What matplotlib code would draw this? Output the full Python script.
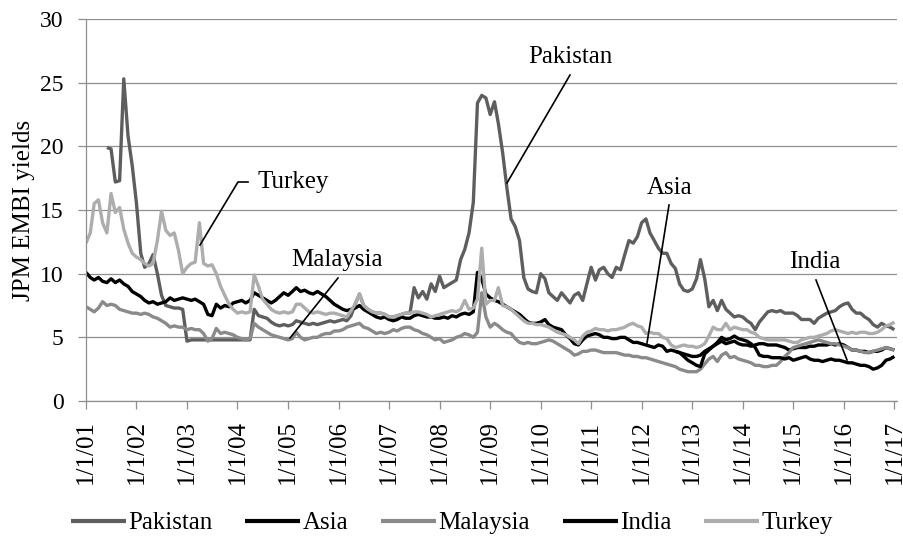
import numpy as np
import pandas as pd
import matplotlib
matplotlib.use("Agg")
import matplotlib.pyplot as plt
import matplotlib.dates as mdates
from matplotlib.ticker import FuncFormatter, MultipleLocator

nan = np.nan

# Monthly readings, Jan 2001 .. Jan 2017 (one row per year)
pakistan = [
    nan, nan, nan, nan, nan, 19.9, 19.8, 17.2, 17.3, 25.3, 20.8, 18.5,
    15.5, 11.6, 10.5, 10.8, 11.5, 10.0, 8.3, 7.5, 7.4, 7.3, 7.3, 7.2,
    4.7, 4.8, 4.8, 4.8, 4.8, 4.8, 4.8, 4.8, 4.8, 4.8, 4.8, 4.8,
    4.8, 4.8, 4.8, 4.8, 7.2, 6.7, 6.6, 6.5, 6.2, 6.0, 5.9, 6.0,
    5.9, 6.0, 6.3, 6.2, 6.1, 6.0, 6.1, 6.0, 6.1, 6.2, 6.3, 6.2,
    6.3, 6.4, 6.3, 6.7, 7.6, 8.4, 7.5, 7.2, 7.0, 6.9, 6.9, 6.8,
    6.6, 6.6, 6.7, 6.8, 6.9, 6.9, 8.9, 8.1, 8.6, 8.0, 9.2, 8.6,
    9.8, 8.9, 9.1, 9.3, 9.5, 11.1, 11.9, 13.2, 15.6, 23.4, 24.0, 23.8,
    22.5, 23.5, 21.8, 19.5, 16.8, 14.3, 13.7, 12.6, 9.7, 8.8, 8.6, 8.5,
    10.0, 9.6, 8.5, 8.2, 7.9, 8.5, 8.1, 7.7, 8.3, 8.5, 7.9, 9.2,
    10.5, 9.5, 10.3, 10.5, 10.0, 9.7, 10.5, 10.3, 11.5, 12.6, 12.4, 12.9,
    14.0, 14.3, 13.2, 12.6, 12.0, 11.6, 11.6, 10.8, 10.4, 9.2, 8.7, 8.6,
    8.8, 9.6, 11.1, 9.6, 7.4, 7.9, 7.1, 7.9, 7.2, 6.9, 6.6, 6.7,
    6.6, 6.3, 6.1, 5.6, 6.2, 6.6, 7.0, 7.1, 7.0, 7.1, 6.9, 6.9,
    6.9, 6.7, 6.4, 6.4, 6.4, 6.1, 6.5, 6.7, 6.9, 7.0, 7.1, 7.4,
    7.6, 7.7, 7.2, 6.9, 6.9, 6.6, 6.4, 6.0, 5.8, 6.1, 5.9, 5.8,
    5.6,
]

asia = [
    10.1, 9.7, 9.5, 9.7, 9.4, 9.3, 9.6, 9.3, 9.5, 9.2, 9.0, 8.6,
    8.4, 8.2, 7.9, 7.7, 7.8, 7.6, 7.7, 7.8, 8.1, 7.9, 8.0, 8.1,
    8.0, 7.9, 8.0, 7.8, 7.6, 6.8, 6.7, 7.6, 7.3, 7.5, 7.4, 7.7,
    7.8, 7.9, 7.7, 7.9, 8.5, 8.3, 8.1, 7.9, 7.7, 7.9, 8.2, 8.5,
    8.3, 8.6, 8.9, 8.6, 8.7, 8.5, 8.4, 8.6, 8.4, 8.2, 7.9, 7.6,
    7.4, 7.2, 7.1, 7.2, 7.3, 7.5, 7.2, 7.0, 6.8, 6.6, 6.5, 6.6,
    6.4, 6.3, 6.4, 6.6, 6.5, 6.5, 6.7, 6.8, 6.7, 6.6, 6.6, 6.5,
    6.5, 6.6, 6.5, 6.7, 6.6, 6.8, 6.9, 6.8, 7.0, 10.1, 9.6, 8.4,
    8.1, 7.9, 7.8, 7.6, 7.4, 7.2, 7.0, 6.8, 6.5, 6.2, 6.1, 6.1,
    6.2, 6.4, 6.0, 5.8, 5.7, 5.6, 5.2, 4.9, 4.5, 4.4, 4.8, 5.1,
    5.2, 5.3, 5.2, 5.0, 5.0, 4.9, 4.9, 5.0, 5.0, 4.8, 4.6, 4.6,
    4.5, 4.4, 4.3, 4.2, 4.4, 4.3, 3.9, 4.0, 3.9, 3.8, 3.7, 3.6,
    3.5, 3.5, 3.6, 3.9, 4.1, 4.3, 4.5, 4.7, 4.5, 4.6, 4.7, 4.5,
    4.4, 4.4, 4.3, 4.4, 4.5, 4.5, 4.4, 4.4, 4.4, 4.3, 4.2, 4.0,
    4.1, 4.2, 4.2, 4.2, 4.3, 4.3, 4.4, 4.4, 4.4, 4.5, 4.4, 4.5,
    4.4, 4.2, 4.0, 4.0, 3.9, 3.9, 3.8, 3.9, 3.9, 4.0, 4.2, 4.1,
    4.0,
]

malaysia = [
    7.4, 7.2, 7.0, 7.3, 7.8, 7.5, 7.6, 7.5, 7.2, 7.1, 7.0, 6.9,
    6.9, 6.8, 6.9, 6.8, 6.6, 6.5, 6.3, 6.1, 5.8, 5.9, 5.8, 5.8,
    5.6, 5.7, 5.6, 5.6, 5.3, 4.7, 4.9, 5.7, 5.3, 5.4, 5.3, 5.2,
    5.0, 4.9, 4.8, 4.9, 6.1, 5.8, 5.6, 5.4, 5.2, 5.1, 5.0, 4.9,
    4.8, 4.9, 5.4, 5.0, 4.8, 4.9, 5.0, 5.0, 5.2, 5.3, 5.3, 5.5,
    5.5, 5.6, 5.8, 5.9, 6.0, 6.1, 5.8, 5.7, 5.5, 5.3, 5.4, 5.3,
    5.4, 5.6, 5.5, 5.7, 5.8, 5.8, 5.6, 5.5, 5.3, 5.2, 5.0, 4.8,
    4.9, 4.6, 4.7, 4.8, 5.0, 5.1, 5.3, 5.2, 5.0, 5.4, 8.5, 6.6,
    5.8, 6.1, 5.9, 5.6, 5.4, 5.3, 4.9, 4.6, 4.5, 4.6, 4.5, 4.5,
    4.6, 4.7, 4.8, 4.7, 4.5, 4.3, 4.1, 3.9, 3.6, 3.7, 3.9, 3.9,
    4.0, 4.0, 3.9, 3.8, 3.8, 3.8, 3.8, 3.7, 3.6, 3.6, 3.5, 3.5,
    3.4, 3.4, 3.3, 3.2, 3.1, 3.0, 2.9, 2.8, 2.7, 2.5, 2.4, 2.3,
    2.3, 2.3, 2.5, 2.9, 3.3, 3.5, 3.1, 3.6, 3.8, 3.4, 3.5, 3.3,
    3.2, 3.1, 3.0, 2.8, 2.8, 2.7, 2.7, 2.8, 2.8, 3.1, 3.5, 3.8,
    4.2, 4.3, 4.4, 4.5, 4.6, 4.7, 4.8, 4.7, 4.6, 4.5, 4.5, 4.4,
    4.3, 4.2, 4.0, 4.0, 3.9, 3.8, 3.8, 3.9, 4.0, 4.1, 4.2, 4.1,
    4.0,
]

india = [nan] * 140 + [
    3.9, 3.8, 3.5, 3.2,
    3.0, 2.8, 2.7, 3.7, 4.0, 4.3, 4.6, 5.0, 4.8, 4.9, 5.1, 4.9,
    4.8, 4.7, 4.5, 4.2, 3.6, 3.5, 3.5, 3.4, 3.4, 3.4, 3.3, 3.4,
    3.2, 3.3, 3.4, 3.5, 3.3, 3.2, 3.2, 3.1, 3.2, 3.3, 3.2, 3.2,
    3.1, 3.0, 3.0, 2.9, 2.8, 2.8, 2.7, 2.5, 2.6, 2.8, 3.2, 3.3,
    3.5,
]

turkey = [
    12.4, 13.2, 15.5, 15.8, 14.0, 13.2, 16.3, 14.8, 15.2, 13.5, 12.4, 11.6,
    11.3, 11.1, 10.8, 10.6, 10.8, 12.6, 14.9, 13.4, 13.0, 13.2, 11.8, 10.0,
    10.5, 10.8, 10.9, 14.0, 10.8, 10.6, 10.7, 10.0, 9.0, 8.3, 7.6, 7.2,
    6.9, 7.0, 6.9, 7.0, 9.9, 9.0, 8.0, 7.6, 7.2, 7.0, 6.9, 7.0,
    6.9, 7.0, 7.6, 7.6, 7.3, 7.0, 6.9, 7.0, 6.9, 6.8, 6.9, 6.9,
    6.8, 6.7, 6.6, 7.1, 7.6, 8.4, 7.5, 7.2, 7.0, 6.9, 6.9, 6.8,
    6.6, 6.6, 6.7, 6.8, 6.9, 6.9, 7.0, 7.0, 6.9, 6.8, 6.6, 6.7,
    6.8, 6.9, 7.0, 7.1, 7.0, 7.2, 7.9, 7.2, 7.3, 8.0, 12.0, 7.6,
    7.9, 7.9, 8.9, 7.5, 7.4, 7.2, 6.9, 6.6, 6.3, 6.1, 6.1, 6.0,
    6.0, 5.9, 5.8, 5.6, 5.4, 5.3, 5.2, 5.0, 4.8, 4.5, 5.1, 5.4,
    5.5, 5.7, 5.6, 5.6, 5.5, 5.6, 5.6, 5.7, 5.8, 6.0, 6.1, 5.9,
    5.8, 5.3, 5.4, 5.3, 5.3, 5.0, 4.9, 4.4, 4.2, 4.3, 4.4, 4.3,
    4.3, 4.2, 4.3, 4.5, 5.1, 5.8, 5.6, 5.6, 6.1, 5.6, 5.8, 5.7,
    5.6, 5.6, 5.4, 5.3, 5.0, 4.9, 4.8, 4.8, 4.8, 4.8, 4.8, 4.7,
    4.6, 4.6, 4.8, 4.9, 5.0, 5.0, 5.1, 5.2, 5.3, 5.5, 5.6, 5.5,
    5.4, 5.3, 5.4, 5.3, 5.4, 5.4, 5.3, 5.3, 5.4, 5.6, 5.9, 6.0,
    6.2,
]

series_names = ["Pakistan", "Asia", "Malaysia", "India", "Turkey"]
series_values = [pakistan, asia, malaysia, india, turkey]
series_colors = ["#5e5e5e", "#000000", "#8a8a8a", "#000000", "#adadad"]

dates = pd.date_range("2001-01-01", periods=len(asia), freq="MS")

plt.rcParams["font.family"] = ["Liberation Serif", "DejaVu Serif"]

W, H = 904, 536
fig = plt.figure(figsize=(W / 100, H / 100), dpi=100)
L, R, T, B = 86, 897, 19, 401
ax = fig.add_axes([L / W, 1 - B / H, (R - L) / W, (B - T) / H])

for name, vals, col in zip(series_names, series_values, series_colors):
    ax.plot(dates, vals, color=col, lw=2.4, label=name,
            solid_joinstyle="round", solid_capstyle="butt")

ax.set_ylim(0, 30)
ax.set_xlim(pd.Timestamp("2001-01-01"), pd.Timestamp("2017-01-20"))
ax.yaxis.set_major_locator(MultipleLocator(5))
ax.grid(axis="y", color="#8f8f8f", lw=0.9)
ax.set_axisbelow(True)
for s in ["top", "right"]:
    ax.spines[s].set_visible(False)
for s in ["left", "bottom"]:
    ax.spines[s].set_color("#8f8f8f")
    ax.spines[s].set_linewidth(0.9)

ax.xaxis.set_major_locator(mdates.YearLocator())


def fmt_date(v, pos):
    d = mdates.num2date(v)
    return f"{d.month}/{d.day}/{d:%y}"


ax.xaxis.set_major_formatter(FuncFormatter(fmt_date))
ax.tick_params(axis="both", color="#8f8f8f", labelcolor="black",
               length=6, width=0.9, labelsize=17)
ax.tick_params(axis="x", labelrotation=90, pad=8, labelsize=18)
ax.tick_params(axis="y", pad=10)
ax.set_ylabel("JPM EMBI yields", fontsize=18)
ax.yaxis.set_label_coords(-0.063, 0.5)


def P(x, y):
    return ((x - L) / (R - L), (B - y) / (B - T))


def leader(points):
    xs, ys = zip(*[P(x, y) for x, y in points])
    ax.plot(xs, ys, transform=ax.transAxes, color="black", lw=1.2,
            clip_on=False)


# annotations
leader([(200, 245), (238, 182), (248, 182)])
ax.text(*P(258, 182), "Turkey", transform=ax.transAxes, ha="left",
        va="center", fontsize=18)
leader([(338, 278), (290, 338)])
ax.text(*P(337, 260), "Malaysia", transform=ax.transAxes, ha="center",
        va="center", fontsize=18)
leader([(570, 75), (507, 183)])
ax.text(*P(570, 57), "Pakistan", transform=ax.transAxes, ha="center",
        va="center", fontsize=18)
leader([(669, 205), (647, 343)])
ax.text(*P(670, 188), "Asia", transform=ax.transAxes, ha="center",
        va="center", fontsize=18)
leader([(816, 280), (847, 360)])
ax.text(*P(815, 262), "India", transform=ax.transAxes, ha="center",
        va="center", fontsize=18)

leg = fig.legend(loc="center", bbox_to_anchor=(0.5, 1 - 523 / H), ncol=5,
                 frameon=False, fontsize=18, handlelength=2.2,
                 handletextpad=0.1, columnspacing=1.3)
for ln in leg.get_lines():
    ln.set_linewidth(3)

fig.savefig("out.png", dpi=100)
